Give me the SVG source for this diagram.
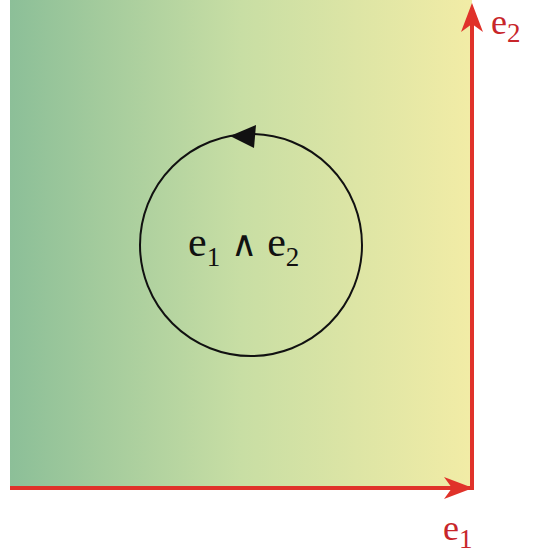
<svg xmlns="http://www.w3.org/2000/svg" width="539" height="556" viewBox="0 0 539 556">
<defs>
<linearGradient id="bg" x1="0" y1="0" x2="1" y2="0">
<stop offset="0" stop-color="#8cbf98"/>
<stop offset="0.5" stop-color="#c8dea4"/>
<stop offset="1" stop-color="#f2eca6"/>
</linearGradient>
<style>
.axis{stroke:#e0322a;stroke-width:4;fill:none}
text{font-family:'Liberation Serif','DejaVu Serif','Times New Roman',serif}
.lbl{font-size:36px;fill:#c8262a}
.math{font-size:42px;fill:#111}
.sub{font-size:27px}
.wedge{font-family:'DejaVu Sans',sans-serif;font-weight:200;font-size:36px}
</style>
</defs>
<rect x="10" y="0" width="462" height="488" fill="url(#bg)"/>
<g id="connectors">
<line class="axis" x1="10" y1="488" x2="470" y2="488"/>
<line class="axis" x1="472" y1="490" x2="472" y2="8"/>
<path d="M444,477 L473,488 L444,499 L452,488 Z" fill="#e0322a"/>
<path d="M461,32 L472,3 L483,32 L472,24 Z" fill="#e0322a"/>
</g>
<g id="circle">
<circle cx="251" cy="245" r="111" fill="none" stroke="#111" stroke-width="2"/>
<path d="M230,136 L256,125 L254,148 Z" fill="#111"/>
</g>
<g id="wedge">
<text class="math" x="188" y="256">e<tspan class="sub" dy="10">1</tspan><tspan dy="-10"> </tspan><tspan class="wedge">∧</tspan><tspan> e</tspan><tspan class="sub" dy="10">2</tspan></text>
</g>
<g id="e1label"><text class="lbl" x="443" y="540">e<tspan class="sub" dy="8">1</tspan></text></g>
<g id="e2label"><text class="lbl" x="491" y="34">e<tspan class="sub" dy="8">2</tspan></text></g>
</svg>
